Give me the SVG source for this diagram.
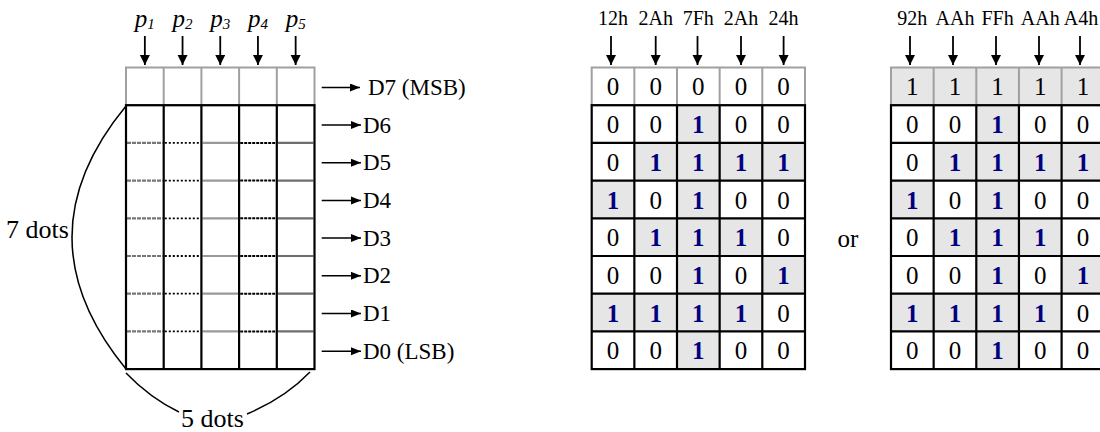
<svg xmlns="http://www.w3.org/2000/svg" width="1100" height="432" viewBox="0 0 1100 432">
<style>
text{font-family:"Liberation Serif","Times New Roman",serif;fill:#000}
.c{font-size:25px;text-anchor:middle}
.o{font-weight:bold;fill:#000080}
.h{font-size:20px;text-anchor:middle}
.p{font-size:25px;font-style:italic;text-anchor:middle}
.d{font-size:23px}
.dots{font-size:26px}
.gb{fill:#e6e6e6}
.gline{stroke:#a0a0a0;stroke-width:2;fill:none}
.bline{stroke:#000;stroke-width:2.2;fill:none}
.arr{stroke:#000;stroke-width:1.8;fill:none;marker-end:url(#ah)}
.rarr{stroke:#000;stroke-width:1.5;fill:none;marker-end:url(#ahr)}
.brace{stroke:#000;stroke-width:1.5;fill:none}
</style>
<defs>
<marker id="ah" markerUnits="userSpaceOnUse" markerWidth="12" markerHeight="12" refX="10" refY="5" orient="auto"><path d="M0,0L10,5L0,10z" fill="#000"/></marker>
<marker id="ahr" markerUnits="userSpaceOnUse" markerWidth="12" markerHeight="10" refX="10" refY="4" orient="auto"><path d="M0,0L10,4L0,8z" fill="#000"/></marker>
</defs>
<rect width="1100" height="432" fill="#fff"/>

<g id="matrix">
<rect x="126" y="67.5" width="188.5" height="37.7" class="gline"/>
<path class="gline" d="M163.7,67.5V105.2M201.4,67.5V105.2M239.1,67.5V105.2M276.8,67.5V105.2"/>
<path d="M127,142.9H162.6M127,180.6H162.6M127,218.3H162.6M127,256H162.6M127,293.7H162.6M127,331.4H162.6" stroke="#777" stroke-width="2.2" stroke-dasharray="4 1"/>
<path d="M164.8,142.9H200.3M164.8,180.6H200.3M164.8,218.3H200.3M164.8,256H200.3M164.8,293.7H200.3M164.8,331.4H200.3" stroke="#000" stroke-width="1.8" stroke-dasharray="2 2"/>
<path d="M202.5,142.9H238M202.5,180.6H238M202.5,218.3H238M202.5,256H238M202.5,293.7H238M202.5,331.4H238" stroke="#999" stroke-width="2.2"/>
<path d="M240.2,142.9H275.7M240.2,180.6H275.7M240.2,218.3H275.7M240.2,256H275.7M240.2,293.7H275.7M240.2,331.4H275.7" stroke="#000" stroke-width="2" stroke-dasharray="3 1"/>
<path d="M277.9,142.9H313.4M277.9,180.6H313.4M277.9,218.3H313.4M277.9,256H313.4M277.9,293.7H313.4M277.9,331.4H313.4" stroke="#6e6e6e" stroke-width="2.2"/>
<rect x="126" y="105.2" width="188.5" height="263.9" class="bline"/>
<path class="bline" d="M163.7,105.2V369.1M201.4,105.2V369.1M239.1,105.2V369.1M276.8,105.2V369.1"/>
</g>

<g id="p-labels">
<text class="p" x="144.85" y="27">p<tspan font-size="15" dy="2">1</tspan></text>
<text class="p" x="182.55" y="27">p<tspan font-size="15" dy="2">2</tspan></text>
<text class="p" x="220.25" y="27">p<tspan font-size="15" dy="2">3</tspan></text>
<text class="p" x="257.95" y="27">p<tspan font-size="15" dy="2">4</tspan></text>
<text class="p" x="295.65" y="27">p<tspan font-size="15" dy="2">5</tspan></text>
</g>

<g id="d-labels">
<text class="d" x="368" y="95">D7 (MSB)</text>
<text class="d" x="363" y="132.5">D6</text>
<text class="d" x="363" y="170.2">D5</text>
<text class="d" x="363" y="207.9">D4</text>
<text class="d" x="363" y="245.6">D3</text>
<text class="d" x="363" y="283.3">D2</text>
<text class="d" x="363" y="321">D1</text>
<text class="d" x="363" y="358.7">D0 (LSB)</text>
</g>

<g id="dim-7dots">
<path class="brace" d="M126,106 Q18,237 126,369"/>
<text class="dots" x="6" y="238">7 dots</text>
</g>
<g id="dim-5dots">
<path class="brace" d="M126,373 Q150,398 179,412"/>
<path class="brace" d="M247,414 Q285,398 310,372"/>
<text class="dots" x="181" y="427">5 dots</text>
</g>

<g id="grid1">
<rect class="gb" x="677" y="105.2" width="42.65" height="37.7"/>
<rect class="gb" x="634.35" y="142.9" width="42.65" height="37.7"/>
<rect class="gb" x="677" y="142.9" width="42.65" height="37.7"/>
<rect class="gb" x="719.65" y="142.9" width="42.65" height="37.7"/>
<rect class="gb" x="762.3" y="142.9" width="42.65" height="37.7"/>
<rect class="gb" x="591.7" y="180.6" width="42.65" height="37.7"/>
<rect class="gb" x="677" y="180.6" width="42.65" height="37.7"/>
<rect class="gb" x="634.35" y="218.3" width="42.65" height="37.7"/>
<rect class="gb" x="677" y="218.3" width="42.65" height="37.7"/>
<rect class="gb" x="719.65" y="218.3" width="42.65" height="37.7"/>
<rect class="gb" x="677" y="256" width="42.65" height="37.7"/>
<rect class="gb" x="762.3" y="256" width="42.65" height="37.7"/>
<rect class="gb" x="591.7" y="293.7" width="42.65" height="37.7"/>
<rect class="gb" x="634.35" y="293.7" width="42.65" height="37.7"/>
<rect class="gb" x="677" y="293.7" width="42.65" height="37.7"/>
<rect class="gb" x="719.65" y="293.7" width="42.65" height="37.7"/>
<rect class="gb" x="677" y="331.4" width="42.65" height="37.7"/>
<rect x="591.7" y="67.5" width="213.3" height="37.7" class="gline"/>
<path class="gline" d="M634.35,67.5V105.2M677,67.5V105.2M719.65,67.5V105.2M762.3,67.5V105.2"/>
<rect x="591.7" y="105.2" width="213.3" height="263.9" class="bline"/>
<path class="bline" d="M634.35,105.2V369.1M677,105.2V369.1M719.65,105.2V369.1M762.3,105.2V369.1M591.7,142.9H805M591.7,180.6H805M591.7,218.3H805M591.7,256H805M591.7,293.7H805M591.7,331.4H805"/>
<text class="c" x="613" y="95.4">0</text><text class="c" x="655.7" y="95.4">0</text><text class="c" x="698.3" y="95.4">0</text><text class="c" x="741" y="95.4">0</text><text class="c" x="783.6" y="95.4">0</text>
<text class="c" x="613" y="133.1">0</text><text class="c" x="655.7" y="133.1">0</text><text class="c o" x="698.3" y="133.1">1</text><text class="c" x="741" y="133.1">0</text><text class="c" x="783.6" y="133.1">0</text>
<text class="c" x="613" y="170.8">0</text><text class="c o" x="655.7" y="170.8">1</text><text class="c o" x="698.3" y="170.8">1</text><text class="c o" x="741" y="170.8">1</text><text class="c o" x="783.6" y="170.8">1</text>
<text class="c o" x="613" y="208.5">1</text><text class="c" x="655.7" y="208.5">0</text><text class="c o" x="698.3" y="208.5">1</text><text class="c" x="741" y="208.5">0</text><text class="c" x="783.6" y="208.5">0</text>
<text class="c" x="613" y="246.2">0</text><text class="c o" x="655.7" y="246.2">1</text><text class="c o" x="698.3" y="246.2">1</text><text class="c o" x="741" y="246.2">1</text><text class="c" x="783.6" y="246.2">0</text>
<text class="c" x="613" y="283.9">0</text><text class="c" x="655.7" y="283.9">0</text><text class="c o" x="698.3" y="283.9">1</text><text class="c" x="741" y="283.9">0</text><text class="c o" x="783.6" y="283.9">1</text>
<text class="c o" x="613" y="321.6">1</text><text class="c o" x="655.7" y="321.6">1</text><text class="c o" x="698.3" y="321.6">1</text><text class="c o" x="741" y="321.6">1</text><text class="c" x="783.6" y="321.6">0</text>
<text class="c" x="613" y="359.3">0</text><text class="c" x="655.7" y="359.3">0</text><text class="c o" x="698.3" y="359.3">1</text><text class="c" x="741" y="359.3">0</text><text class="c" x="783.6" y="359.3">0</text>
</g>

<g id="grid1-headers">
<text class="h" x="613" y="25">12h</text>
<text class="h" x="655.7" y="25">2Ah</text>
<text class="h" x="698.3" y="25">7Fh</text>
<text class="h" x="741" y="25">2Ah</text>
<text class="h" x="783.6" y="25">24h</text>
</g>

<text id="or" x="848" y="247" font-size="25" text-anchor="middle">or</text>

<g id="grid2">
<rect class="gb" x="891" y="67.5" width="213.3" height="37.7"/>
<rect class="gb" x="976.3" y="105.2" width="42.65" height="37.7"/>
<rect class="gb" x="933.65" y="142.9" width="42.65" height="37.7"/>
<rect class="gb" x="976.3" y="142.9" width="42.65" height="37.7"/>
<rect class="gb" x="1018.95" y="142.9" width="42.65" height="37.7"/>
<rect class="gb" x="1061.6" y="142.9" width="42.65" height="37.7"/>
<rect class="gb" x="891" y="180.6" width="42.65" height="37.7"/>
<rect class="gb" x="976.3" y="180.6" width="42.65" height="37.7"/>
<rect class="gb" x="933.65" y="218.3" width="42.65" height="37.7"/>
<rect class="gb" x="976.3" y="218.3" width="42.65" height="37.7"/>
<rect class="gb" x="1018.95" y="218.3" width="42.65" height="37.7"/>
<rect class="gb" x="976.3" y="256" width="42.65" height="37.7"/>
<rect class="gb" x="1061.6" y="256" width="42.65" height="37.7"/>
<rect class="gb" x="891" y="293.7" width="42.65" height="37.7"/>
<rect class="gb" x="933.65" y="293.7" width="42.65" height="37.7"/>
<rect class="gb" x="976.3" y="293.7" width="42.65" height="37.7"/>
<rect class="gb" x="1018.95" y="293.7" width="42.65" height="37.7"/>
<rect class="gb" x="976.3" y="331.4" width="42.65" height="37.7"/>
<rect x="891" y="67.5" width="213.3" height="37.7" class="gline"/>
<path class="gline" d="M933.65,67.5V105.2M976.3,67.5V105.2M1018.95,67.5V105.2M1061.6,67.5V105.2"/>
<rect x="891" y="105.2" width="213.3" height="263.9" class="bline"/>
<path class="bline" d="M933.65,105.2V369.1M976.3,105.2V369.1M1018.95,105.2V369.1M1061.6,105.2V369.1M891,142.9H1104.3M891,180.6H1104.3M891,218.3H1104.3M891,256H1104.3M891,293.7H1104.3M891,331.4H1104.3"/>
<text class="c" x="912.3" y="95.4">1</text><text class="c" x="955" y="95.4">1</text><text class="c" x="997.6" y="95.4">1</text><text class="c" x="1040.3" y="95.4">1</text><text class="c" x="1082.9" y="95.4">1</text>
<text class="c" x="912.3" y="133.1">0</text><text class="c" x="955" y="133.1">0</text><text class="c o" x="997.6" y="133.1">1</text><text class="c" x="1040.3" y="133.1">0</text><text class="c" x="1082.9" y="133.1">0</text>
<text class="c" x="912.3" y="170.8">0</text><text class="c o" x="955" y="170.8">1</text><text class="c o" x="997.6" y="170.8">1</text><text class="c o" x="1040.3" y="170.8">1</text><text class="c o" x="1082.9" y="170.8">1</text>
<text class="c o" x="912.3" y="208.5">1</text><text class="c" x="955" y="208.5">0</text><text class="c o" x="997.6" y="208.5">1</text><text class="c" x="1040.3" y="208.5">0</text><text class="c" x="1082.9" y="208.5">0</text>
<text class="c" x="912.3" y="246.2">0</text><text class="c o" x="955" y="246.2">1</text><text class="c o" x="997.6" y="246.2">1</text><text class="c o" x="1040.3" y="246.2">1</text><text class="c" x="1082.9" y="246.2">0</text>
<text class="c" x="912.3" y="283.9">0</text><text class="c" x="955" y="283.9">0</text><text class="c o" x="997.6" y="283.9">1</text><text class="c" x="1040.3" y="283.9">0</text><text class="c o" x="1082.9" y="283.9">1</text>
<text class="c o" x="912.3" y="321.6">1</text><text class="c o" x="955" y="321.6">1</text><text class="c o" x="997.6" y="321.6">1</text><text class="c o" x="1040.3" y="321.6">1</text><text class="c" x="1082.9" y="321.6">0</text>
<text class="c" x="912.3" y="359.3">0</text><text class="c" x="955" y="359.3">0</text><text class="c o" x="997.6" y="359.3">1</text><text class="c" x="1040.3" y="359.3">0</text><text class="c" x="1082.9" y="359.3">0</text>
</g>

<g id="grid2-headers">
<text class="h" x="912.3" y="25">92h</text>
<text class="h" x="955" y="25">AAh</text>
<text class="h" x="997.6" y="25">FFh</text>
<text class="h" x="1040.3" y="25">AAh</text>
<text class="h" x="1081" y="25">A4h</text>
</g>

<g id="connectors">
<path class="arr" d="M144.85,36V65"/><path class="arr" d="M182.55,36V65"/><path class="arr" d="M220.25,36V65"/><path class="arr" d="M257.95,36V65"/><path class="arr" d="M295.65,36V65"/>
<path class="arr" d="M611,36V65"/><path class="arr" d="M655.7,36V65"/><path class="arr" d="M697.5,36V65"/><path class="arr" d="M741,36V65"/><path class="arr" d="M783.6,36V65"/>
<path class="arr" d="M910,36V65"/><path class="arr" d="M953,36V65"/><path class="arr" d="M996,36V65"/><path class="arr" d="M1039,36V65"/><path class="arr" d="M1080,36V65"/>
<path class="rarr" d="M321.7,87.5H360"/>
<path class="rarr" d="M321.7,125H361"/>
<path class="rarr" d="M321.7,162.7H361"/>
<path class="rarr" d="M321.7,200.4H361"/>
<path class="rarr" d="M321.7,238.1H361"/>
<path class="rarr" d="M321.7,275.8H361"/>
<path class="rarr" d="M321.7,313.5H361"/>
<path class="rarr" d="M321.7,351.2H361"/>
</g>
</svg>
